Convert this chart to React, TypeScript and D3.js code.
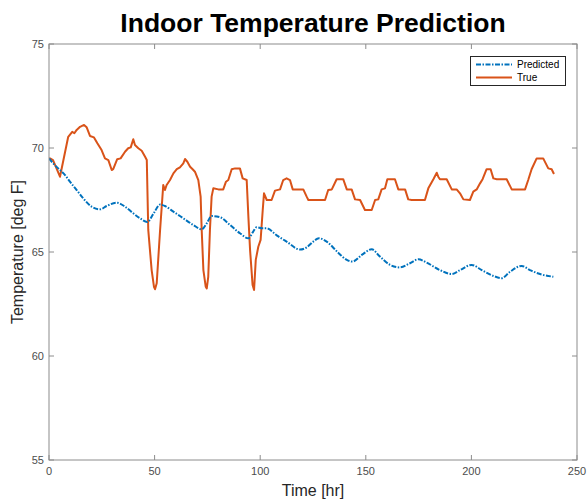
import React from "react";
import * as d3 from "d3";

const trueT = [0, 0.5, 1.9, 5.2, 9.1, 11.0, 12.0, 13.1, 14.7, 16.6, 17.8, 19.4, 21.3, 22.9, 24.9, 26.5, 28.1, 29.7, 30.4, 32.3, 33.9, 36.0, 37.5, 38.7, 39.9, 40.7, 42.3, 43.9, 45.5, 46.3, 47.0, 48.6, 49.7, 50.2, 51.0, 52.6, 54.1, 54.9, 55.7, 57.3, 58.9, 60.5, 62.0, 63.6, 64.4, 65.5, 66.8, 68.0, 69.1, 70.7, 71.8, 72.3, 73.1, 74.2, 74.7, 75.4, 76.2, 77.0, 77.8, 80.2, 82.5, 83.8, 84.9, 86.5, 88.1, 90.4, 91.7, 93.6, 94.4, 95.2, 96.4, 97.1, 97.9, 99.1, 100.2, 101.2, 101.8, 103.1, 105.4, 107.0, 109.4, 110.9, 112.5, 114.1, 115.4, 120.4, 122.0, 122.8, 130.7, 132.2, 133.9, 136.2, 139.3, 141.0, 143.3, 144.9, 147.3, 149.6, 152.8, 154.4, 155.9, 157.5, 159.1, 160.2, 163.8, 165.4, 168.6, 170.1, 171.7, 178.0, 179.6, 182.0, 183.6, 184.3, 185.1, 188.3, 190.7, 193.0, 194.6, 196.2, 199.3, 200.9, 202.5, 204.1, 205.3, 207.2, 209.1, 210.4, 212.0, 216.7, 219.1, 225.4, 226.9, 228.5, 230.9, 234.0, 236.4, 238.0, 239.1];
const trueV = [69.5, 69.5, 69.42, 68.62, 70.54, 70.78, 70.71, 70.87, 71.02, 71.11, 71.0, 70.58, 70.51, 70.23, 69.9, 69.5, 69.42, 68.94, 68.98, 69.46, 69.5, 69.82, 69.99, 70.03, 70.42, 70.14, 69.99, 69.87, 69.58, 69.42, 66.06, 64.13, 63.33, 63.21, 63.5, 66.06, 68.22, 67.98, 68.22, 68.46, 68.78, 68.98, 69.07, 69.26, 69.47, 69.34, 69.1, 68.98, 68.86, 68.46, 67.66, 66.06, 64.13, 63.33, 63.25, 63.81, 66.06, 67.66, 68.06, 68.01, 68.01, 68.38, 68.46, 68.98, 69.02, 69.02, 68.54, 68.46, 66.7, 65.1, 63.41, 63.17, 64.62, 65.25, 65.58, 67.02, 67.82, 67.5, 67.5, 67.95, 68.01, 68.46, 68.54, 68.46, 68.01, 68.01, 67.66, 67.5, 67.5, 67.98, 68.01, 68.5, 68.5, 68.01, 68.01, 67.53, 67.5, 67.02, 67.02, 67.5, 67.53, 68.01, 68.06, 68.5, 68.5, 68.01, 68.01, 67.53, 67.5, 67.5, 68.06, 68.5, 68.81, 68.62, 68.5, 68.5, 68.01, 68.01, 67.82, 67.53, 67.5, 67.9, 68.01, 68.3, 68.5, 68.98, 68.98, 68.54, 68.5, 68.5, 68.01, 68.01, 68.46, 68.98, 69.5, 69.5, 69.02, 68.98, 68.75];

const predT = [0, 2.0, 5.2, 7.6, 9.9, 13.1, 16.2, 20.2, 24.1, 27.3, 32.1, 36.0, 39.9, 43.1, 46.5, 49.5, 52.6, 54.9, 58.9, 63.6, 68.3, 72.3, 74.7, 77.0, 81.0, 85.7, 90.4, 94.4, 96.7, 98.3, 100.9, 103.1, 107.8, 112.5, 118.8, 122.0, 125.1, 127.8, 131.5, 136.8, 141.0, 143.7, 148.1, 152.8, 156.7, 161.5, 166.2, 170.9, 174.9, 178.8, 185.1, 190.7, 194.6, 200.1, 204.9, 210.4, 214.3, 218.3, 223.8, 227.7, 232.5, 238.8];
const predV = [69.5, 69.26, 68.94, 68.7, 68.38, 67.98, 67.58, 67.18, 67.05, 67.21, 67.37, 67.18, 66.86, 66.62, 66.44, 66.85, 67.28, 67.21, 66.94, 66.62, 66.3, 66.09, 66.38, 66.73, 66.67, 66.3, 65.9, 65.66, 65.98, 66.19, 66.14, 66.14, 65.8, 65.5, 65.12, 65.22, 65.5, 65.66, 65.5, 64.98, 64.62, 64.54, 64.86, 65.13, 64.78, 64.38, 64.26, 64.46, 64.65, 64.49, 64.13, 63.94, 64.13, 64.38, 64.13, 63.85, 63.74, 64.05, 64.33, 64.13, 63.94, 63.81];

const xTicks = [0, 50, 100, 150, 200, 250];
const yTicks = [55, 60, 65, 70, 75];
const seriesNames = ["Predicted", "True"];
const seriesColors = ["#0072BD", "#D95319"];

const W = 587, H = 499;
const L = 49, R = 577, T = 44, B = 460;
const FONT = "'Liberation Sans', Arial, Helvetica, sans-serif";

export default function App() {
  const x = d3.scaleLinear().domain([0, 250]).range([L, R]);
  const y = d3.scaleLinear().domain([55, 75]).range([B, T]);
  const line = d3.line<[number, number]>().x(d => x(d[0])).y(d => y(d[1])).curve(d3.curveMonotoneX);
  const trueLine = d3.line<[number, number]>().x(d => x(d[0])).y(d => y(d[1])).curve(d3.curveLinear);
  const predPts = predT.map((t, i) => [t, predV[i]] as [number, number]);
  const truePts = trueT.map((t, i) => [t, trueV[i]] as [number, number]);
  const axisColor = "#8c8c8c";
  const textColor = "#4d4d4d";
  const tl = 5;
  return (
    <svg width={W} height={H} style={{ position: "absolute", left: 0, top: 0, background: "#fff" }} fontFamily={FONT}>
      <rect x={0} y={0} width={W} height={H} fill="#fff" />
      <text x={(L + R) / 2} y={32} textAnchor="middle" fontSize={26.5} fontWeight="bold" fill="#000">Indoor Temperature Prediction</text>
      <defs>
        <clipPath id="plotclip"><rect x={L} y={T} width={R - L} height={B - T} /></clipPath>
      </defs>
      <g clipPath="url(#plotclip)">
        <path d={trueLine(truePts) || ""} fill="none" stroke={seriesColors[1]} strokeWidth={2} strokeLinejoin="round" />
        <path d={line(predPts) || ""} fill="none" stroke={seriesColors[0]} strokeWidth={2} strokeDasharray="5,1.5,1.5,1.5" />
      </g>
      <rect x={L} y={T} width={R - L} height={B - T} fill="none" stroke={axisColor} strokeWidth={1} />
      {xTicks.map(t => (
        <g key={"x" + t}>
          <line x1={x(t)} x2={x(t)} y1={B} y2={B - tl} stroke={axisColor} />
          <line x1={x(t)} x2={x(t)} y1={T} y2={T + tl} stroke={axisColor} />
          <text x={x(t)} y={B + 15} textAnchor="middle" fontSize={11} fill={textColor}>{t}</text>
        </g>
      ))}
      {yTicks.map(v => (
        <g key={"y" + v}>
          <line x1={L} x2={L + tl} y1={y(v)} y2={y(v)} stroke={axisColor} />
          <line x1={R} x2={R - tl} y1={y(v)} y2={y(v)} stroke={axisColor} />
          <text x={L - 5} y={y(v) + 4} textAnchor="end" fontSize={11} fill={textColor}>{v}</text>
        </g>
      ))}
      <text x={(L + R) / 2} y={496} textAnchor="middle" fontSize={16} fill="#262626">Time [hr]</text>
      <text transform={`translate(23,${(T + B) / 2}) rotate(-90)`} textAnchor="middle" fontSize={16} fill="#262626">Temperature [deg F]</text>
      <g>
        <rect x={470.5} y={56.5} width={95} height={29} fill="#fff" stroke="#262626" strokeWidth={1} />
        <line x1={476} x2={512} y1={64.5} y2={64.5} stroke={seriesColors[0]} strokeWidth={2} strokeDasharray="5,1.5,1.5,1.5" />
        <line x1={476} x2={512} y1={77.5} y2={77.5} stroke={seriesColors[1]} strokeWidth={2} />
        <text x={517} y={68} fontSize={10} fill="#000">{seriesNames[0]}</text>
        <text x={517} y={81} fontSize={10} fill="#000">{seriesNames[1]}</text>
      </g>
    </svg>
  );
}
